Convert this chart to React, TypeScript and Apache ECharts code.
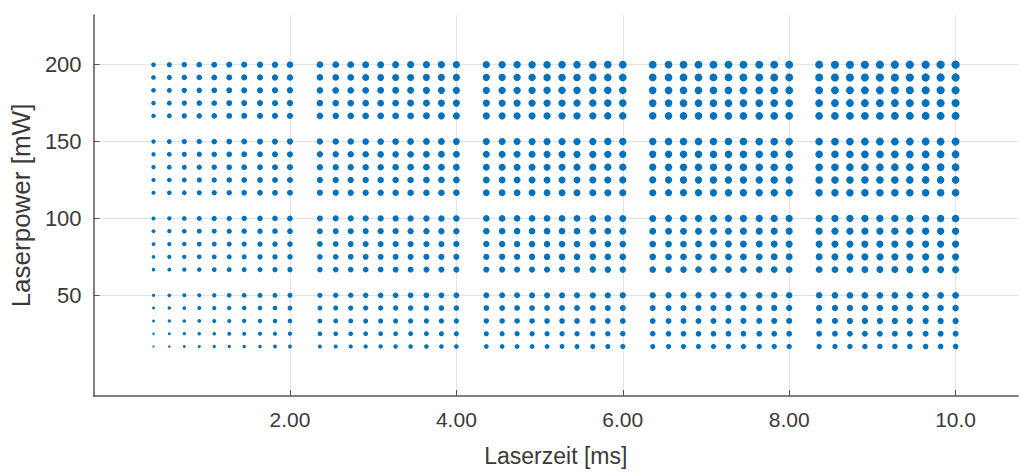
import React, { useEffect, useRef } from "react";
import * as echarts from "echarts";

const xCols = [
  0.36, 0.55, 0.73, 0.91, 1.09, 1.27, 1.45, 1.64, 1.82, 2.0,
  2.36, 2.55, 2.73, 2.91, 3.09, 3.27, 3.45, 3.64, 3.82, 4.0,
  4.36, 4.55, 4.73, 4.91, 5.09, 5.27, 5.45, 5.64, 5.82, 6.0,
  6.36, 6.55, 6.73, 6.91, 7.09, 7.27, 7.45, 7.64, 7.82, 8.0,
  8.36, 8.55, 8.73, 8.91, 9.09, 9.27, 9.45, 9.64, 9.82, 10.0,
];
const yRows = [
  16.7, 25, 33.3, 41.7, 50,
  66.7, 75, 83.3, 91.7, 100,
  116.7, 125, 133.3, 141.7, 150,
  166.7, 175, 183.3, 191.7, 200,
];
const xTicks = [2, 4, 6, 8, 10];
const xTickLabels = ["2.00", "4.00", "6.00", "8.00", "10.0"];
const yTicks = [50, 100, 150, 200];
const yTickLabels = ["50", "100", "150", "200"];

export default function App() {
  const ref = useRef<HTMLDivElement>(null);
  useEffect(() => {
    const chart = echarts.init(ref.current!, null, { renderer: "svg" });
    const points: number[][] = [];
    for (const x of xCols) for (const y of yRows) points.push([x, y]);
    const font = "'Liberation Sans', Arial, sans-serif";
    chart.setOption({
      animation: false,
      backgroundColor: "#ffffff",
      grid: { left: 93, right: 2, top: 15, bottom: 75.5, containLabel: false },
      xAxis: {
        type: "value",
        min: -0.36,
        max: 10.75,
        name: "Laserzeit [ms]",
        nameLocation: "middle",
        nameGap: 48,
        nameTextStyle: { fontFamily: font, fontSize: 23, color: "#3a3a3a" },
        axisLine: { show: true, onZero: false, lineStyle: { color: "#555", width: 1.5 } },
        axisTick: { show: true, inside: true, length: 6, customValues: xTicks, lineStyle: { color: "#555" } },
        axisLabel: {
          customValues: xTicks,
          margin: 13,
          fontFamily: font,
          fontSize: 21,
          color: "#3a3a3a",
          formatter: (v: number) => xTickLabels[xTicks.indexOf(v)] ?? "",
        },
        splitLine: { show: true, customValues: xTicks, lineStyle: { color: "#e3e3e3", width: 1 } },
      },
      yAxis: {
        type: "value",
        min: -15.5,
        max: 232.3,
        name: "Laserpower [mW]",
        nameLocation: "middle",
        nameGap: 57,
        nameTextStyle: { fontFamily: font, fontSize: 26, color: "#3a3a3a" },
        axisLine: { show: true, onZero: false, lineStyle: { color: "#555", width: 1.5 } },
        axisTick: { show: true, inside: true, length: 6, customValues: yTicks, lineStyle: { color: "#555" } },
        axisLabel: {
          customValues: yTicks,
          margin: 12,
          fontFamily: font,
          fontSize: 22,
          color: "#3a3a3a",
          formatter: (v: number) => yTickLabels[yTicks.indexOf(v)] ?? "",
        },
        splitLine: { show: true, customValues: yTicks, lineStyle: { color: "#e3e3e3", width: 1 } },
      },
      series: [
        {
          type: "scatter",
          data: points,
          symbol: "circle",
          symbolSize: (v: number[]) => Math.max(1.5, 1.05 * Math.log(v[0] * v[1]) + 0.2),
          itemStyle: { color: "#0072BD", opacity: 1 },
        },
      ],
    });
    return () => chart.dispose();
  }, []);
  return (
    <div
      ref={ref}
      style={{ position: "absolute", left: 0, top: 0, width: 1020, height: 472 }}
    />
  );
}
